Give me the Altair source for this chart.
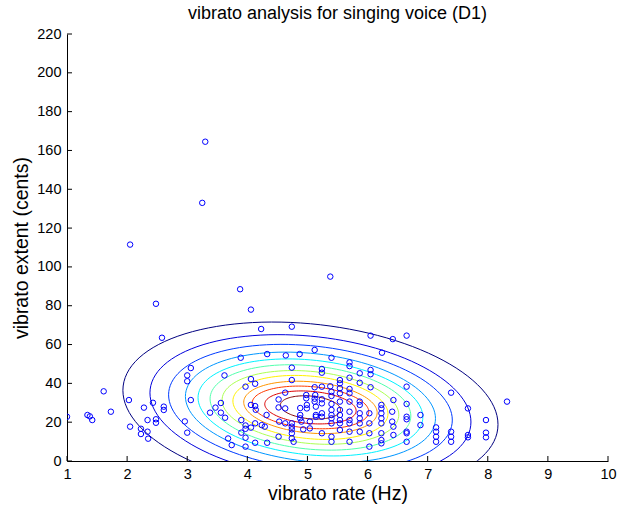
import altair as alt
import numpy as np
import pandas as pd

# ---- scatter data: vibrato rate (Hz) and vibrato extent (cents) ----
rate = [
    3.30, 3.25, 2.05, 5.38, 3.88, 2.48, 4.06, 2.58, 4.23, 4.74, 6.05, 6.42, 6.65,
    1.00, 1.34, 1.38, 1.42, 1.61, 1.73, 2.03, 2.05, 2.23, 2.23, 2.34, 2.35, 2.28,
    2.34, 2.43, 2.48, 2.48, 2.61, 2.61, 2.96, 3.00, 3.00, 3.00, 3.06, 3.06, 3.38,
    3.47, 3.56, 3.56, 3.62, 3.63, 3.68, 3.74,
    3.89, 3.97, 4.06, 4.13, 4.06, 4.13, 4.14, 3.90, 3.97, 3.97, 4.06, 3.90, 3.97,
    3.97, 4.13, 4.13, 4.24, 4.29, 4.33, 4.33, 4.32,
    4.52, 4.63, 4.52, 4.63, 4.64, 4.87, 4.74, 4.74, 4.53, 4.63, 4.74, 4.74, 4.74,
    4.52, 4.74, 4.74, 4.77, 4.88, 4.88, 4.88, 4.90, 4.93, 4.98, 4.98, 4.99, 4.99,
    5.04, 5.04, 5.12, 5.13, 5.12, 5.12, 5.12, 5.14, 5.14, 5.14,
    5.24, 5.24, 5.24, 5.24, 5.24, 5.24, 5.24, 5.24,
    5.40, 5.38, 5.40, 5.40, 5.40, 5.40, 5.40, 5.40, 5.40, 5.40, 5.40,
    5.54, 5.54, 5.54, 5.54, 5.54, 5.54, 5.54, 5.54, 5.54, 5.54,
    5.70, 5.70, 5.70, 5.70, 5.70, 5.70, 5.70, 5.70, 5.70, 5.70, 5.70,
    5.87, 5.87, 5.87, 5.87, 5.87, 5.87, 5.87, 5.87,
    6.05, 6.05, 6.05, 6.03, 6.03, 6.03, 6.03,
    6.24, 6.23, 6.23, 6.23, 6.23, 6.23, 6.23, 6.23, 6.23,
    6.43, 6.41, 6.41, 6.43, 6.43,
    6.65, 6.65, 6.65, 6.65, 6.65, 6.65, 6.65,
    6.88, 6.88,
    7.14, 7.14, 7.14, 7.14,
    7.39, 7.39, 7.39, 7.39,
    7.67, 7.67, 7.67,
    7.97, 7.97, 7.97,
    8.32,
]
extent = [
    164.5, 133.0, 111.5, 95.0, 88.5, 81.0, 78.0, 63.5, 68.0, 69.2, 64.6, 62.8, 64.6,
    22.8, 23.7, 23.0, 21.1, 35.9, 25.4, 31.4, 17.7, 16.6, 13.9, 15.1, 11.5, 27.5,
    21.1, 30.0, 21.5, 19.7, 28.0, 26.3, 20.4, 14.6, 44.1, 41.1, 47.9, 31.4, 24.9,
    27.5, 29.9, 24.9, 44.1, 22.3, 11.6, 8.2,
    53.2, 38.3, 42.2, 39.8, 28.9, 28.3, 26.4, 21.1, 18.3, 16.6, 17.2, 14.6, 12.0,
    7.4, 9.4, 19.4, 18.5, 17.7, 9.4, 55.1, 23.7,
    31.7, 35.2, 27.6, 27.1, 54.4, 55.1, 48.1, 41.7, 20.3, 19.4, 19.4, 17.7, 16.3,
    12.5, 14.3, 11.7, 9.9, 27.3, 23.7, 22.0, 20.3, 16.3, 34.0, 32.3, 28.9, 27.1,
    20.3, 16.8, 57.2, 34.0, 38.0, 32.1, 30.6, 28.0, 23.7, 22.8,
    47.4, 45.5, 38.3, 31.8, 29.7, 24.6, 22.8, 14.3,
    53.2, 38.5, 35.7, 33.5, 29.4, 26.3, 23.7, 22.0, 19.4, 12.5, 9.9,
    41.7, 40.0, 37.5, 34.9, 30.6, 26.3, 23.7, 21.1, 19.4, 16.0,
    50.8, 48.9, 42.9, 37.1, 34.9, 30.6, 25.4, 21.1, 19.4, 15.1, 9.9,
    45.2, 40.3, 30.6, 28.9, 24.6, 22.0, 19.4, 15.1,
    46.9, 44.7, 38.0, 24.6, 19.4, 14.3, 7.4,
    55.8, 28.9, 27.1, 24.6, 22.0, 19.4, 14.3, 10.8, 9.1,
    31.4, 25.4, 20.3, 17.7, 13.4,
    38.3, 29.4, 22.8, 21.5, 15.1, 14.3, 9.9,
    23.7, 18.5,
    17.3, 15.1, 12.5, 9.9,
    35.2, 15.1, 12.5, 9.9,
    27.1, 13.4, 12.2,
    21.1, 14.6, 12.2,
    30.6,
]

# ---- contour levels (outermost first) ----
level_names = ["L01", "L02", "L03", "L04", "L05", "L06",
               "L07", "L08", "L09", "L10", "L11", "L12"]
level_colors = ["#000080", "#0000dc", "#003bff", "#0096ff", "#00f2ff", "#52ffad",
                "#adff52", "#fff200", "#ff9600", "#ff3b00", "#dc0000", "#800000"]
level_half_width = [3.12, 2.67, 2.36, 2.08, 1.87, 1.67, 1.47, 1.29, 1.11, 0.97, 0.76, 0.50]
level_half_height = [44.0, 37.5, 32.5, 28.5, 25.0, 22.0, 19.0, 16.5, 13.5, 11.0, 8.5, 6.0]
center_rate = 5.05
center_extent = 27.6
tilt = -0.2

x_ticks = list(range(1, 11))
y_ticks = list(range(0, 221, 20))

W, H = 541, 427

pts = pd.DataFrame({"rate": rate, "extent": extent})

ang = np.linspace(0, 2 * np.pi, 121)
rows = []
for name, a, b in zip(level_names, level_half_width, level_half_height):
    for i, t in enumerate(ang):
        rows.append({
            "level": name, "i": i,
            "rate": center_rate + a * np.cos(t),
            "extent": center_extent + b * (tilt * np.cos(t) + np.sqrt(1 - tilt ** 2) * np.sin(t)),
        })
cont = pd.DataFrame(rows)

xs = alt.Scale(domain=[1, 10], nice=False, zero=False)
ys = alt.Scale(domain=[0, 220], nice=False, zero=True)

FONT = "Liberation Sans"

x_axis = alt.Axis(values=x_ticks, format="d", ticks=False, grid=False, domainColor="black",
                  labelColor="black", labelFontSize=14.5, labelFont=FONT, labelPadding=6,
                  labelOverlap=False, labelFlush=False,
                  title="vibrato rate (Hz)", titleFontSize=19.5, titleFont=FONT,
                  titleFontWeight="normal", titleColor="black", titlePadding=4)
y_axis = alt.Axis(values=y_ticks, format="d", ticks=False, grid=False, domainColor="black",
                  labelColor="black", labelFontSize=14.5, labelFont=FONT, labelPadding=6,
                  labelOverlap=False, labelFlush=False,
                  title="vibrato extent (cents)", titleFontSize=19.5, titleFont=FONT,
                  titleFontWeight="normal", titleColor="black", titlePadding=5)

contours = alt.Chart(cont).mark_line(strokeWidth=1, clip=True).encode(
    x=alt.X("rate:Q", scale=xs, axis=x_axis),
    y=alt.Y("extent:Q", scale=ys, axis=y_axis),
    color=alt.Color("level:N", scale=alt.Scale(domain=level_names, range=level_colors), legend=None),
    order="i:Q",
)

scatter = alt.Chart(pts).mark_point(shape="circle", filled=False, color="#0000ff",
                                     size=30, strokeWidth=1, opacity=1, clip=True).encode(
    x=alt.X("rate:Q", scale=xs, axis=x_axis),
    y=alt.Y("extent:Q", scale=ys, axis=y_axis),
)

xt = alt.Chart(pd.DataFrame({"rate": x_ticks})).mark_rule(color="black", strokeWidth=1).encode(
    x=alt.X("rate:Q", scale=xs, axis=x_axis), y=alt.value(H), y2=alt.value(H - 5))
yt = alt.Chart(pd.DataFrame({"extent": y_ticks})).mark_rule(color="black", strokeWidth=1).encode(
    y=alt.Y("extent:Q", scale=ys, axis=y_axis), x=alt.value(0), x2=alt.value(5))

chart = alt.layer(contours, scatter, xt, yt).properties(
    width=W, height=H,
    background="white",
    title=alt.TitleParams("vibrato analysis for singing voice (D1)", fontSize=18, font=FONT,
                          fontWeight="normal", color="black", anchor="middle", offset=3),
    autosize=alt.AutoSizeParams(type="none"),
    padding={"left": 67, "top": 34, "right": 9, "bottom": 52},
).configure_view(stroke=None)

chart.save("out.html", embed_options={"renderer": "svg", "actions": False})
